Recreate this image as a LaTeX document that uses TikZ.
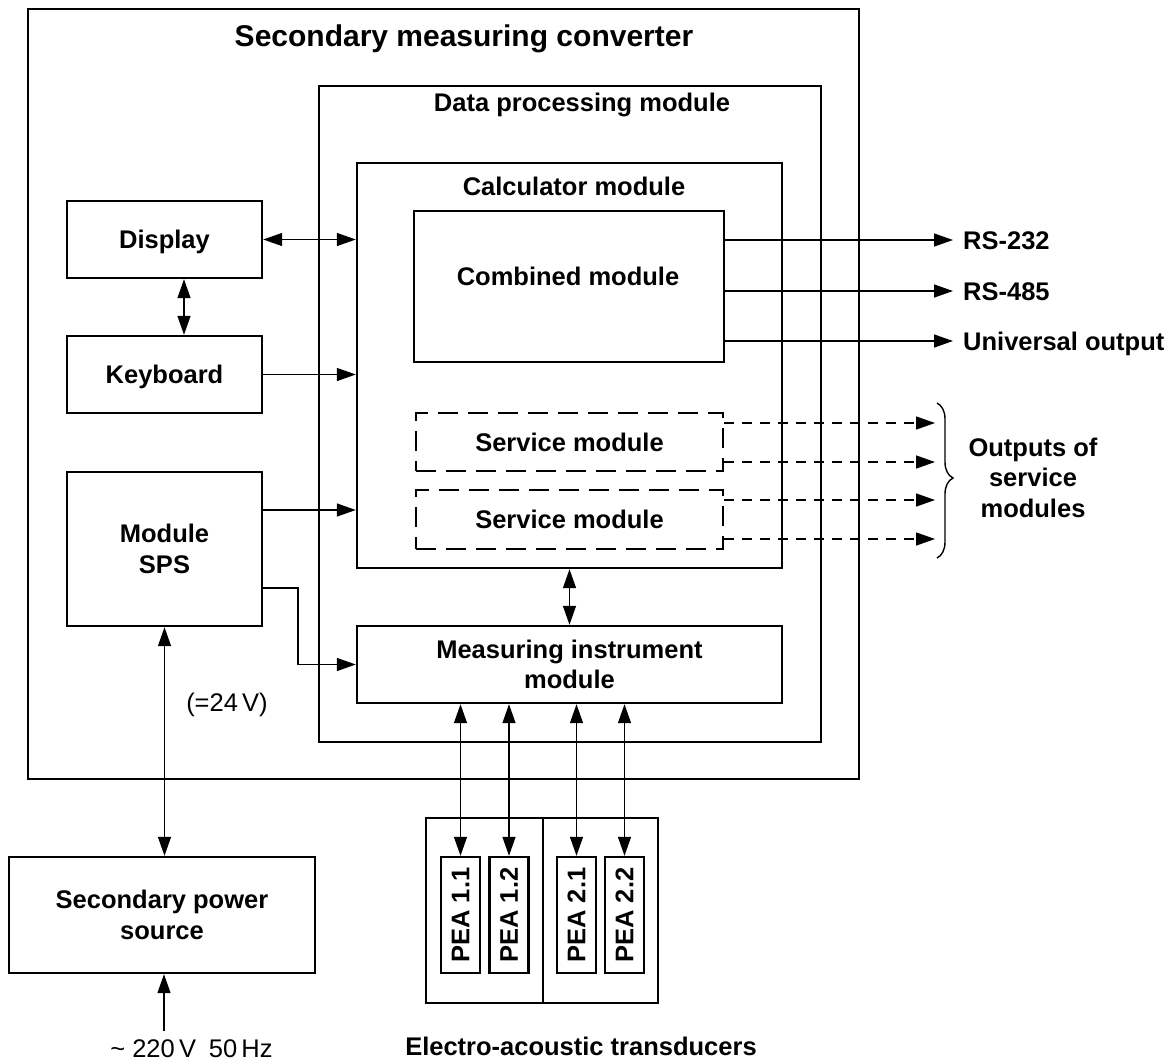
\documentclass[tikz,border=0pt]{standalone}
\usepackage{fontspec}
\usepackage{graphicx}
\setmainfont{Liberation Sans}
\usetikzlibrary{arrows.meta,decorations.pathreplacing}
\begin{document}
\begin{tikzpicture}[x=1pt,y=-1pt,
  box/.style={draw, line width=2.4pt, inner sep=0pt},
  dbox/.style={draw, line width=2.4pt, dash pattern=on 20pt off 10pt, inner sep=0pt},
  lbl/.style={font=\fontsize{25.5}{30.5}\selectfont\bfseries, align=center},
  rlbl/.style={font=\fontsize{25.5}{30.5}\selectfont, inner sep=0pt},
  conn/.style={line width=1.4pt},
  arr/.style={conn, -{Triangle[length=19pt,width=13pt]}},
  dblarr/.style={conn, {Triangle[length=19pt,width=13pt]}-{Triangle[length=19pt,width=13pt]}},
  darr/.style={arr, dash pattern=on 10pt off 8pt},
  one/.style={text height=18.3pt, text depth=0pt}
]
\useasboundingbox (0,0) rectangle (1176,1061);

% main frames
\node[box, minimum width=831pt, minimum height=770pt] (outer) at (443.5,394) {};
\node[lbl, font=\fontsize{30}{36}\selectfont\bfseries, anchor=base] (title) at (464,46) {Secondary measuring converter};
\node[box, minimum width=502pt, minimum height=656pt] (dp) at (570,414) {};
\node[lbl, anchor=base] (dptitle) at (582,111) {Data processing module};
\node[box, minimum width=425pt, minimum height=405pt] (calc) at (569.5,365.5) {};
\node[lbl, anchor=base] (calctitle) at (574,195) {Calculator module};
\node[box, minimum width=310pt, minimum height=151pt] (comb) at (569,286.5) {};
\node[lbl, anchor=base] (combtitle) at (568,285) {Combined module};
\node[dbox, lbl, one, minimum width=307pt, minimum height=58pt] (serv1) at (569.5,442) {Service module};
\node[dbox, lbl, one, minimum width=307pt, minimum height=59pt] (serv2) at (569.5,519.5) {Service module};
\node[box, lbl, minimum width=425pt, minimum height=77pt] (meas) at (569.5,664.5) {Measuring instrument\\module};

% left column
\node[box, lbl, one, minimum width=195pt, minimum height=77pt] (display) at (164.5,239.5) {Display};
\node[box, lbl, one, minimum width=195pt, minimum height=77pt] (kbd) at (164.5,374.5) {Keyboard};
\node[box, lbl, minimum width=195pt, minimum height=154pt] (sps) at (164.5,549) {Module\\SPS};
\node[box, lbl, minimum width=306pt, minimum height=116pt] (power) at (162,915) {Secondary power\\source};

% transducers
\node[box, minimum width=117pt, minimum height=185pt] (grp1) at (484.5,910.5) {};
\node[box, minimum width=115pt, minimum height=185pt] (grp2) at (600.5,910.5) {};
\node[box, lbl, minimum width=39pt, minimum height=116pt] (p11) at (460.5,915) {\rotatebox{90}{PEA 1.1}};
\node[box, lbl, minimum width=39pt, minimum height=116pt] (p12) at (509,915) {\rotatebox{90}{PEA 1.2}};
\node[box, lbl, minimum width=39pt, minimum height=116pt] (p21) at (576.5,915) {\rotatebox{90}{PEA 2.1}};
\node[box, lbl, minimum width=39pt, minimum height=116pt] (p22) at (624.5,915) {\rotatebox{90}{PEA 2.2}};
\node[lbl, anchor=base, inner sep=0pt] (eat) at (581,1055) {Electro-acoustic transducers};

% free labels
\node[rlbl] (v24) at (227,705) {(=24\,V)};
\node[rlbl, anchor=base] (acl) at (191.5,1057) {\textasciitilde\ 220\,V\hspace{0.5em}50\,Hz};
\node[lbl, one, anchor=west, inner sep=0pt] (rs232) at (963,240) {RS-232};
\node[lbl, one, anchor=west, inner sep=0pt] (rs485) at (963,291) {RS-485};
\node[lbl, one, anchor=west, inner sep=0pt] (univ) at (963,341) {Universal output};
\node[lbl] (outs) at (1033,477.5) {Outputs of\\service\\modules};

% helper coordinates
\coordinate (dkx) at (184,0);
\coordinate (ya) at (0,510);
\coordinate (yb) at (0,588);
\coordinate (bx) at (298,0);
\coordinate (acin) at (164,1031);
\coordinate (o1) at (935,423);
\coordinate (o2) at (935,462);
\coordinate (o3) at (935,500);
\coordinate (o4) at (935,539);
\coordinate (br1) at (937,403);
\coordinate (br2) at (937,558);

% connectors
\draw[dblarr] (display.east) -- (display.east -| calc.west);
\draw[dblarr] (display.south -| dkx) -- (kbd.north -| dkx);
\draw[arr] (kbd.east) -- (kbd.east -| calc.west);
\draw[arr] (sps.east |- ya) -- (calc.west |- ya);
\draw[arr] (sps.east |- yb) -| (meas.west -| bx) -- (meas.west);
\draw[dblarr] (calc.south) -- (meas.north);
\draw[dblarr] (sps.south) -- (sps.south |- power.north);
\draw[arr] (acin) -- (acin |- power.south);
\foreach \p in {p11,p12,p21,p22} \draw[dblarr] (meas.south -| \p.north) -- (\p.north);

\draw[arr] (comb.east |- rs232.west) -- ([xshift=-10pt]rs232.west);
\draw[arr] (comb.east |- rs485.west) -- ([xshift=-10pt]rs485.west);
\draw[arr] (comb.east |- univ.west) -- ([xshift=-10pt]univ.west);

\draw[darr] (serv1.east |- o1) -- (o1);
\draw[darr] (serv1.east |- o2) -- (o2);
\draw[darr] (serv2.east |- o3) -- (o3);
\draw[darr] (serv2.east |- o4) -- (o4);
\draw[conn, decorate, decoration={brace, amplitude=16pt, aspect=0.484}] (br1) -- (br2);
\end{tikzpicture}
\end{document}
